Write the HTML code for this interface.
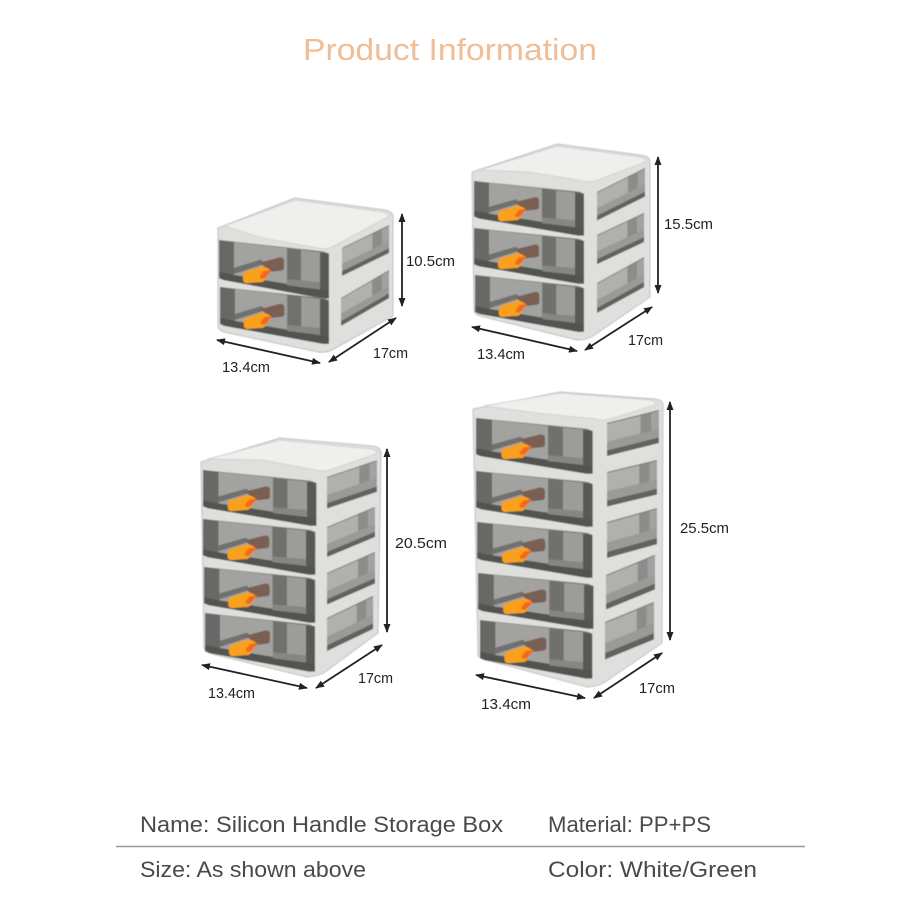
<!DOCTYPE html>
<html><head><meta charset="utf-8">
<style>
html,body{margin:0;padding:0;background:#fff}
svg{display:block}
text{font-family:"Liberation Sans",sans-serif}
.t{font-size:22px;fill:#4a4a4a}
.d{font-size:14.500px;fill:#222}
.a{stroke:#222;stroke-width:1.800;fill:none;marker-start:url(#as);marker-end:url(#ae)}
.fr{fill:#dfdfdd;stroke:#c2c2c0;stroke-width:1}
.lid{fill:#efefed;stroke:#d2d2d0;stroke-width:1}
</style></head>
<body>
<svg width="919" height="919" viewBox="0 0 919 919" xmlns="http://www.w3.org/2000/svg">
<defs>
<marker id="ae" markerWidth="9" markerHeight="7" refX="8" refY="3.500" orient="auto" markerUnits="userSpaceOnUse"><path d="M0 0L9 3.500L0 7Z" fill="#222"/></marker>
<marker id="as" markerWidth="9" markerHeight="7" refX="1" refY="3.500" orient="auto" markerUnits="userSpaceOnUse"><path d="M9 0L0 3.500L9 7Z" fill="#222"/></marker>
<filter id="b" x="-5%" y="-5%" width="110%" height="110%"><feGaussianBlur stdDeviation=".6"/></filter>
<g id="dr">
<path d="M0 0L104 11Q110 12 110 17L110 52Q110 58 104 57L5 39Q0 38 0 33Z" fill="#7c7c7a"/>
<path d="M15 2L68 8L68 46L15 35Z" fill="#a2a2a0"/>
<path d="M82 10L101 12L101 49L82 48Z" fill="#9c9c9a"/>
<path d="M0 0L15 2L15 36L0 33Z" fill="#686866"/>
<path d="M68 8L82 10L82 49L68 46Z" fill="#6f6f6d"/>
<path d="M101 12L110 13L110 56L101 54Z" fill="#585856"/>
<path d="M0 31L15 34L101 48L110 50L110 57L101 56L5 39L0 37Z" fill="#525250"/>
<path d="M15 27L42 19L46 23L15 33Z" fill="#70706e"/>
<path d="M68 38L101 41L101 48L68 44Z" fill="#868684"/>
<path d="M41 22L60 17Q65 16 65 21L65 27Q65 30 60 30L51 31Z" fill="#7a5f52"/>
<path d="M24 35Q24 31 29 30L42 26Q47 25 52 30L45 40Q44 41 40 41L28 42Q24 42 24 38Z" fill="#f9a01f"/>
<path d="M41 35L45 30L53 29L46 37Q43 38 41 37Z" fill="#f4681c"/>
</g>
<g id="wn">
<rect width="48" height="30" fill="#b0b0ae"/>
<rect x="31" width="10" height="30" fill="#8c8c8a"/>
<rect x="41" width="7" height="30" fill="#a2a2a0"/>
<rect y="17" width="48" height="9" fill="#9a9a98"/>
<rect y="25" width="48" height="5" fill="#626260"/>
<rect x="0" y="0" width="48" height="1" fill="#7e7e7c"/>
</g>
</defs>

<rect width="919" height="919" fill="#fff"/>
<text x="303" y="60" font-size="31" fill="#efbd96" textLength="294" lengthAdjust="spacingAndGlyphs">Product Information</text>

<g filter="url(#b)">
<!-- Box 1 -->
<path class="fr" d="M218 228L295 198L385 210Q394 212 393 218L393 316L332 350Q326 353 318 352L224 332Q218 330 218 325Z"/>
<path class="lid" d="M224 226L295 200L383 212Q390 214 388 217L332 247Q326 250 318 248L262 238Z"/>
<use href="#wn" transform="matrix(.98 -.48 0 .93 342 248)"/>
<use href="#wn" transform="matrix(1 -.58 0 .93 341 298)"/>
<use href="#dr" transform="translate(219 240) scale(1 1.03)"/>
<use href="#dr" transform="translate(220 287) scale(.99 1)"/>

<!-- Box 2 -->
<path class="fr" d="M472 172L557 144L640 155Q650 156 650 162L650 297L593 336Q587 340 577 340L480 316Q474 314 474 310Z"/>
<path class="lid" d="M480 170L557 146L640 157Q647 159 645 162L598 180Q592 183 584 181L528 172Z"/>
<use href="#wn" transform="matrix(1 -.5 0 .95 597 192)"/>
<use href="#wn" transform="matrix(.98 -.46 0 .97 597 235)"/>
<use href="#wn" transform="matrix(.98 -.54 0 1 597 283)"/>
<use href="#dr" transform="translate(474 181) scale(1 .96)"/>
<use href="#dr" transform="translate(474 228) scale(1 .98)"/>
<use href="#dr" transform="translate(475 275) scale(.99 1)"/>

<!-- Box 3 -->
<path class="fr" d="M201 462L280 438L372 446Q381 447 381 453L378 633L325 672Q319 676 307 677L212 654Q204 651 204 647Z"/>
<path class="lid" d="M208 459L280 440L372 449Q378 451 376 454L330 470Q325 472 316 470L262 460Z"/>
<use href="#wn" transform="matrix(1.04 -.35 0 1.05 327 477)"/>
<use href="#wn" transform="matrix(1 -.42 0 1 327 527)"/>
<use href="#wn" transform="matrix(1 -.44 0 1.05 327 573)"/>
<use href="#wn" transform="matrix(.96 -.46 0 1.1 327 618)"/>
<use href="#dr" transform="translate(203 470) scale(1.03 .98)"/>
<use href="#dr" transform="translate(203 519) scale(1.02 .98)"/>
<use href="#dr" transform="translate(204 567) scale(1.01 .98)"/>
<use href="#dr" transform="translate(205 613) scale(1 1.03)"/>

<!-- Box 4 -->
<path class="fr" d="M473 409L560 392L655 399Q663 400 663 405L662 643L605 682Q598 687 587 687L486 660Q478 657 478 655Z"/>
<path class="lid" d="M484 406L560 393L650 400Q658 402 655 405L610 419Q604 421 596 419L545 414Z"/>
<use href="#wn" transform="matrix(1.08 -.27 0 1.1 607 423)"/>
<use href="#wn" transform="matrix(1.04 -.25 0 1.15 607 472)"/>
<use href="#wn" transform="matrix(1.04 -.29 0 1.2 607 522)"/>
<use href="#wn" transform="matrix(1.02 -.42 0 1.15 606 575)"/>
<use href="#wn" transform="matrix(1.02 -.42 0 1.25 605 622)"/>
<use href="#dr" transform="translate(476 418) scale(1.06 .98)"/>
<use href="#dr" transform="translate(476 471) scale(1.06 .98)"/>
<use href="#dr" transform="translate(477 522) scale(1.05 .98)"/>
<use href="#dr" transform="translate(478 573) scale(1.05 .98)"/>
<use href="#dr" transform="translate(480 620) scale(1.02 1.03)"/>
</g>

<!-- Dimensions -->
<line class="a" x1="402" y1="214" x2="402" y2="306"/>
<line class="a" x1="217" y1="340" x2="320" y2="363"/>
<line class="a" x1="329" y1="362" x2="396" y2="318"/>
<text class="d" x="406" y="266" textLength="49" lengthAdjust="spacingAndGlyphs">10.5cm</text>
<text class="d" x="222" y="372" textLength="48" lengthAdjust="spacingAndGlyphs">13.4cm</text>
<text class="d" x="373" y="358" textLength="35" lengthAdjust="spacingAndGlyphs">17cm</text>

<line class="a" x1="658" y1="157" x2="658" y2="293"/>
<line class="a" x1="472" y1="327" x2="577" y2="351"/>
<line class="a" x1="585" y1="350" x2="652" y2="307"/>
<text class="d" x="664" y="229" textLength="49" lengthAdjust="spacingAndGlyphs">15.5cm</text>
<text class="d" x="477" y="359" textLength="48" lengthAdjust="spacingAndGlyphs">13.4cm</text>
<text class="d" x="628" y="345" textLength="35" lengthAdjust="spacingAndGlyphs">17cm</text>

<line class="a" x1="387" y1="449" x2="387" y2="632"/>
<line class="a" x1="202" y1="665" x2="307" y2="688"/>
<line class="a" x1="316" y1="688" x2="382" y2="645"/>
<text class="d" x="395" y="548" textLength="52" lengthAdjust="spacingAndGlyphs">20.5cm</text>
<text class="d" x="208" y="698" textLength="47" lengthAdjust="spacingAndGlyphs">13.4cm</text>
<text class="d" x="358" y="683" textLength="35" lengthAdjust="spacingAndGlyphs">17cm</text>

<line class="a" x1="670" y1="402" x2="670" y2="640"/>
<line class="a" x1="476" y1="675" x2="585" y2="698"/>
<line class="a" x1="594" y1="698" x2="662" y2="653"/>
<text class="d" x="680" y="533" textLength="49" lengthAdjust="spacingAndGlyphs">25.5cm</text>
<text class="d" x="481" y="709" textLength="50" lengthAdjust="spacingAndGlyphs">13.4cm</text>
<text class="d" x="639" y="693" textLength="36" lengthAdjust="spacingAndGlyphs">17cm</text>

<!-- Footer -->
<text class="t" x="140" y="832" textLength="363" lengthAdjust="spacingAndGlyphs">Name: Silicon Handle Storage Box</text>
<text class="t" x="548" y="832" textLength="163" lengthAdjust="spacingAndGlyphs">Material: PP+PS</text>
<line x1="116" y1="846.500" x2="805" y2="846.500" stroke="#9a9a9a" stroke-width="1.500"/>
<text class="t" x="140" y="877" textLength="226" lengthAdjust="spacingAndGlyphs">Size: As shown above</text>
<text class="t" x="548" y="877" textLength="209" lengthAdjust="spacingAndGlyphs">Color: White/Green</text>
</svg>
</body></html>
